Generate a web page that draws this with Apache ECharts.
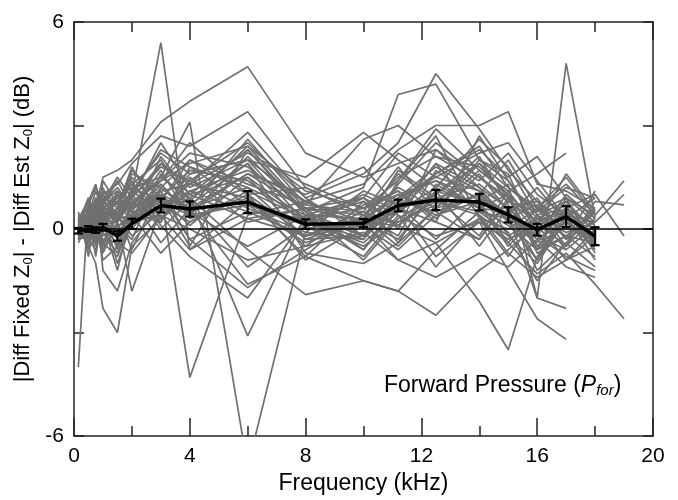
<!DOCTYPE html>
<html>
<head>
<meta charset="utf-8">
<script src="https://cdn.jsdelivr.net/npm/echarts@6/dist/echarts.min.js"></script>
<style>
  html, body { margin: 0; padding: 0; background: #fff; }
  #chart { width: 678px; height: 500px; }
</style>
</head>
<body>
<div id="chart"></div>
<script>
// frequencies (kHz) shared by every ear
const freqs = [0.15, 0.5, 0.75, 1, 1.5, 2, 3, 4, 6, 8, 10, 11.2, 12.5, 14, 15, 16, 17, 18, 19];

// mean difference (dB) and half-width of error bar
const meanDiff = [-0.05, 0.0, -0.03, 0.05, -0.2, 0.15, 0.68, 0.58, 0.78, 0.14, 0.17, 0.68, 0.84, 0.78, 0.41, -0.02, 0.36, -0.21];
const meanErr  = [0.08, 0.08, 0.08, 0.1, 0.14, 0.15, 0.2, 0.22, 0.32, 0.14, 0.12, 0.17, 0.29, 0.24, 0.22, 0.17, 0.3, 0.26];

// individual ears (gray lines), null = no measurement
const ears = [
  [0.1, 0.4, 0.6, 1.5, 1.7, 2.0, 3.1, 3.7, 4.7, 2.2, 1.5, 1.9, 2.3, 1.5, 0.8, 0.2, 0.5, -0.2, null],
  [0.0, -0.3, 0.2, 0.5, 0.3, 1.0, 5.4, -0.6, 0.8, 0.2, -0.4, 0.5, 1.2, 0.6, 0.1, -0.6, -0.2, -0.8, null],
  [0.2, 0.5, 0.8, 1.0, 1.3, 1.9, 2.7, 2.4, 3.4, 1.2, 0.4, 1.5, 2.1, 1.8, 1.0, 0.2, 0.6, 0.1, null],
  [-0.2, 0.3, 0.6, 0.4, 0.9, 1.2, 1.5, 3.1, -6.9, -0.1, -0.3, 0.8, 1.6, 2.4, 1.2, 0.5, 0.9, 0.4, 1.4],
  [0.0, 0.2, -0.1, 0.3, 0.6, 0.9, 1.8, 1.4, 2.5, 0.9, 1.6, 2.5, 4.5, 2.9, 1.7, 0.8, 0.2, -0.3, null],
  [0.3, 0.1, 0.4, 0.7, 0.2, 0.8, 1.4, 2.2, 1.8, 0.5, 1.2, 3.9, 4.2, 2.0, 1.4, 0.3, -0.2, 0.5, null],
  [-0.1, -0.4, 0.1, 0.2, -0.5, 0.4, 0.9, 0.6, 1.2, -0.3, 0.3, 0.9, 1.5, 1.1, 0.4, -2.0, 4.8, 0.3, null],
  [0.1, 0.4, 0.2, 0.6, 0.4, 1.1, 2.2, 1.6, 2.0, 0.8, 1.3, 2.3, 3.0, 3.0, 3.4, 1.3, 1.1, 0.6, null],
  [-4.0, 0.8, -0.3, 0.5, -1.0, 0.2, 0.4, -0.6, 0.3, -0.2, 0.5, 0.1, -0.4, 0.3, -0.8, 0.4, -0.1, 0.2, null],
  [0.3, -0.5, -1.0, -2.3, -3.0, -0.5, 0.3, 1.1, 0.5, -0.2, 0.1, -0.6, 0.4, 1.0, 0.2, -0.4, 0.6, -0.3, null],
  [0.5, -0.8, 0.9, -1.2, -1.8, -0.4, 0.7, 0.2, 1.1, 0.3, -0.5, 0.2, 0.8, 0.4, -0.2, -1.0, 0.3, null, null],
  [0.2, 0.1, -0.4, 0.3, -0.2, 0.6, 1.0, -4.3, 0.4, 0.8, 0.2, -0.3, 1.1, 0.7, -0.5, 0.4, -0.6, 0.1, null],
  [-0.3, 0.6, 0.2, -0.5, 0.4, -0.2, 0.5, 0.9, -3.1, 0.4, -0.6, 0.6, 0.2, -0.3, 0.9, -0.5, 0.2, -0.4, null],
  [0.1, -0.2, 0.4, -0.6, 0.2, -1.8, 0.6, 1.3, 0.9, -0.5, 0.7, 1.1, 0.3, 1.6, 0.5, 0.9, -0.3, 0.2, null],
  [0.0, 0.3, -0.2, 0.1, 0.5, 0.9, -0.4, 0.6, -1.6, -0.8, -1.5, -1.8, -2.5, -1.2, -0.6, 0.1, -0.9, -0.5, null],
  [-0.2, 0.2, 0.5, 0.8, 0.3, 0.1, 1.2, 0.5, 1.6, 0.6, 0.2, -0.9, -0.4, -2.1, -3.5, -0.8, 0.4, -0.9, null],
  [0.4, 0.0, -0.3, 0.6, 1.0, 0.5, 0.2, 1.8, 0.7, 0.1, 0.9, 0.4, -1.1, 0.3, -0.4, -1.3, -0.7, -1.6, -2.6],
  [-0.1, 0.5, 0.3, -0.4, -0.8, 0.3, 0.8, 0.4, 2.1, 0.5, -0.2, 0.7, -0.8, 0.2, -1.2, -2.6, -3.2, null, null],
  [0.2, -0.1, 0.1, 0.4, -0.3, 0.7, 1.5, 0.9, -0.6, -1.9, -1.5, -1.8, -0.6, 0.5, 0.3, -0.2, 1.0, 0.3, null],
  [-0.4, 0.2, 0.7, 0.3, 0.8, 1.4, 0.1, -0.8, -2.0, 0.3, 0.8, -0.4, 1.3, 0.6, 1.0, 0.2, -0.5, 0.8, 0.7],
  [0.1, 0.7, 0.3, 1.0, 0.4, 0.2, 1.1, -0.3, -1.7, -0.6, 0.4, 1.2, 0.6, 1.9, 1.2, 0.6, 1.5, 0.4, null],
  [0.3, 0.1, -0.2, 0.8, 1.2, 0.6, 1.9, 1.3, 2.8, 0.9, -0.2, 0.6, 1.9, 1.2, 0.2, -0.9, 0.6, 1.0, -0.2],
  [-0.2, 0.4, 1.1, 0.5, 0.2, 0.9, 2.5, 1.2, 2.0, 1.5, 2.8, 2.0, 1.2, 2.6, 1.8, 0.4, 0.8, -0.4, null],
  [0.2, 0.9, 0.4, 0.2, 0.6, 1.6, 1.2, 2.0, 1.3, 0.7, 2.6, 3.0, 2.1, 1.4, 2.2, 1.0, 0.4, 0.2, null],
  [0.0, -0.2, 0.6, 1.1, 0.7, 1.3, 2.0, 0.8, 2.4, 1.1, 0.6, 1.4, 2.9, 1.7, 1.1, 1.6, 2.2, null, null],
  [-0.1, 0.3, 0.9, 0.7, 1.4, 0.6, 0.9, 1.7, 1.4, 0.2, 1.0, 0.5, 1.6, 2.3, 1.5, 2.1, 0.9, 0.2, 1.0],
  [0.1, 0.2, 0.0, 0.4, 0.8, 0.5, 0.6, 1.0, 1.5, 0.3, 0.6, 1.0, 1.4, 0.9, 0.4, -0.3, 0.2, -0.5, null],
  [-0.3, -0.1, 0.3, -0.2, 0.1, 0.3, 1.3, 0.4, 0.7, -0.4, 0.2, 0.1, 0.9, 1.3, 0.6, -0.2, -0.8, -1.2, null],
  [0.2, -0.6, -0.2, 0.5, -0.6, 0.8, 0.2, 1.5, 0.2, 0.6, -0.6, 0.8, 0.5, -0.3, 0.8, 0.5, 1.2, 0.9, null],
  [0.0, 0.5, -0.5, 0.9, 0.1, -0.3, 1.6, 0.7, 1.9, 0.0, 0.3, 1.6, 0.8, 0.5, -0.1, -1.5, -0.4, -1.1, null],
  [-0.1, 0.3, 0.5, -0.1, -0.7, 0.4, -0.7, 0.2, 1.0, 1.2, 0.4, -0.2, 1.7, 0.8, 1.3, -2.0, -2.3, null, null],
  [0.3, 0.6, 0.1, 0.3, 1.0, 0.3, 0.9, -0.5, 2.3, 0.5, -0.9, 0.3, 1.0, 2.1, 0.7, -0.6, 0.1, null, null],
  [-0.2, 0.0, 0.8, 0.6, 0.5, 1.1, 0.5, 1.4, 0.6, -0.1, 1.1, 0.7, -0.3, 0.9, 0.3, 0.7, -0.3, 0.6, null],
  [0.1, -0.3, -0.6, 0.2, 0.6, 1.0, 2.3, 1.8, 1.2, 0.4, -0.2, 1.3, 2.5, 1.5, 0.9, -0.1, 0.5, -0.2, null],
  [0.4, 0.2, 0.2, -0.3, -0.4, -0.7, 0.4, 0.0, -0.9, -0.5, -0.1, -0.9, -1.4, -0.7, -1.1, -0.3, -1.1, -1.4, null],
  [-0.2, 0.6, 0.4, 0.8, 1.1, 0.0, 1.0, 0.6, 2.6, 0.7, 0.5, 1.8, 0.5, 1.0, 2.0, 0.6, 0.0, -0.1, null],
  [0.0, -0.4, 0.3, 0.2, -1.2, 0.5, 1.7, 0.3, 0.9, -0.8, 0.8, 0.1, 1.1, -0.5, 0.6, -1.2, -0.4, 0.5, null],
  [0.2, 0.1, -0.1, 0.5, 0.3, 1.5, 0.6, 1.1, 1.7, 0.8, 0.0, 0.9, 1.8, 1.1, -0.2, 0.3, 0.7, -0.7, null],
  [-0.3, 0.4, 0.6, 1.2, 0.3, 0.4, 1.4, 2.5, 1.0, -0.2, 0.3, -0.5, 0.6, 1.7, 1.0, -0.7, -0.2, -0.4, null],
  [0.1, -0.5, 0.1, -0.7, 0.2, 1.0, 0.0, 0.8, -1.1, 0.1, -0.8, 0.4, -0.2, 0.2, -0.3, 0.1, -0.9, -0.2, null],
  [0.3, 0.8, 1.3, 0.4, 0.0, 0.6, 1.1, 1.3, 2.2, 1.3, 0.6, 1.1, 0.2, 2.7, 1.4, 0.1, 1.6, 0.5, null],
  [-0.1, 0.2, -0.2, 1.4, 0.7, 1.7, 0.9, 0.1, 1.5, -0.3, -0.2, 0.9, 1.4, 0.6, 0.5, -0.9, 0.3, -0.6, null],
  [0.0, -0.2, 0.5, 0.0, 0.4, 0.2, 2.1, 1.0, 0.3, 0.6, 0.9, 0.0, 2.3, 1.2, 0.6, 0.8, -0.3, 1.1, null],
  [0.2, 0.3, -0.4, 0.6, 0.9, 1.3, 0.5, 1.6, 2.0, 0.2, 0.1, 1.7, 0.9, -0.2, 1.1, 0.0, 0.8, -0.1, null],
  [-0.1, 0.1, 0.2, -0.9, -0.5, 0.8, 0.8, 0.5, -0.5, 0.4, 0.3, 1.0, 0.4, 0.8, -0.4, 0.6, -0.5, 0.3, null],
  [0.2, 0.7, 1.2, 0.8, 1.5, 0.9, 1.9, 1.0, 2.3, 0.4, 0.9, 2.2, 1.5, 2.2, 2.5, 1.4, 0.3, 0.9, null],
  [-0.3, -0.2, 0.5, 0.9, 0.2, 1.2, 0.8, 2.0, 1.0, -0.9, 0.1, 0.5, 1.9, 0.4, -0.7, -1.4, -0.9, 0.0, null],
  [0.1, 0.9, 0.0, -0.4, 0.5, -0.6, 1.2, 0.6, 1.6, 1.0, 1.8, 0.6, 1.0, 1.9, 0.9, -0.6, 0.9, -0.5, null],
  [0.0, 0.4, -0.8, 0.6, -0.2, 0.4, 1.0, -0.3, 0.5, 0.3, -0.3, 1.4, 2.7, 0.3, 0.0, 0.6, 1.3, 0.4, null],
  [-0.2, 0.1, 0.7, 0.3, 1.1, 0.7, 1.4, 1.9, 2.4, 0.6, 0.4, 0.2, 0.7, 2.0, 1.6, -0.2, -0.6, null, null],
  [0.3, -0.3, 0.0, 1.0, 0.6, 1.8, 0.3, 0.9, 1.9, -0.7, -1.0, -0.4, 0.6, 1.0, 0.4, 1.2, 0.2, -0.4, null]
];

const xTicks = [0, 4, 8, 12, 16, 20];
const yTicks = [-6, 0, 6];

const chart = echarts.init(document.getElementById('chart'));
const font = 'Liberation Sans, Arial, sans-serif';

const series = [];
ears.forEach(function (vals) {
  const pts = [];
  vals.forEach(function (v, i) {
    if (v !== null) pts.push([freqs[i], v]);
  });
  series.push({
    type: 'line',
    data: pts,
    symbol: 'none',
    silent: true,
    lineStyle: { color: '#707070', width: 1.7 },
    z: 2
  });
});

// mean line + zero reference
series.push({
  type: 'line',
  data: meanDiff.map(function (v, i) { return [freqs[i], v]; }),
  symbol: 'none',
  silent: true,
  lineStyle: { color: '#000', width: 3.5 },
  z: 5,
  markLine: {
    silent: true,
    symbol: 'none',
    label: { show: false },
    lineStyle: { color: '#000', width: 1.5, type: 'solid' },
    data: [{ yAxis: 0 }],
    z: 4
  }
});

// error bars
series.push({
  type: 'custom',
  silent: true,
  z: 6,
  data: meanDiff.map(function (v, i) { return [freqs[i], v - meanErr[i], v + meanErr[i]]; }),
  renderItem: function (params, api) {
    const lo = api.coord([api.value(0), api.value(1)]);
    const hi = api.coord([api.value(0), api.value(2)]);
    const w = 4.5;
    const st = { stroke: '#000', lineWidth: 2.2 };
    return {
      type: 'group',
      children: [
        { type: 'line', shape: { x1: lo[0], y1: lo[1], x2: hi[0], y2: hi[1] }, style: st },
        { type: 'line', shape: { x1: lo[0] - w, y1: lo[1], x2: lo[0] + w, y2: lo[1] }, style: st },
        { type: 'line', shape: { x1: hi[0] - w, y1: hi[1], x2: hi[0] + w, y2: hi[1] }, style: st }
      ]
    };
  }
});

const axisLine = { show: true, onZero: false, lineStyle: { color: '#222', width: 1.5 } };
const tickStyle = { color: '#222', width: 1.5 };

chart.setOption({
  animation: false,
  grid: { left: 74, right: 25, top: 22, bottom: 60 },
  xAxis: [{
    type: 'value', min: 0, max: 20, interval: 4, position: 'bottom',
    axisLine: axisLine,
    axisTick: { inside: true, length: 18, lineStyle: tickStyle },
    minorTick: { show: true, splitNumber: 2, length: 10, lineStyle: tickStyle },
    splitLine: { show: false },
    axisLabel: {
      color: '#000', fontSize: 21, fontFamily: font, margin: 10,
      formatter: function (v) { return xTicks.indexOf(v) >= 0 ? String(v) : ''; }
    },
    name: 'Frequency (kHz)', nameLocation: 'middle', nameGap: 36,
    nameTextStyle: { color: '#000', fontSize: 23, fontFamily: font }
  }, {
    type: 'value', min: 0, max: 20, interval: 4, position: 'top',
    axisLine: axisLine,
    axisTick: { inside: true, length: 18, lineStyle: tickStyle },
    minorTick: { show: true, splitNumber: 2, length: 10, lineStyle: tickStyle },
    splitLine: { show: false },
    axisLabel: { show: false }
  }],
  yAxis: [{
    type: 'value', min: -6, max: 6, interval: 3, position: 'left',
    axisLine: axisLine,
    axisTick: { inside: true, length: 10, lineStyle: tickStyle },
    splitLine: { show: false },
    axisLabel: {
      color: '#000', fontSize: 21, fontFamily: font, margin: 10,
      formatter: function (v) { return yTicks.indexOf(v) >= 0 ? String(v) : ''; }
    },
    name: '|Diff Fixed Z{s|0}| - |Diff Est Z{s|0}| (dB)',
    nameLocation: 'middle', nameGap: 36,
    nameTextStyle: {
      color: '#000', fontSize: 22, fontFamily: font,
      rich: { s: { fontSize: 13, fontFamily: font, color: '#000', padding: [10, 0, 0, 0] } }
    }
  }, {
    type: 'value', min: -6, max: 6, interval: 3, position: 'right',
    axisLine: axisLine,
    axisTick: { inside: true, length: 10, lineStyle: tickStyle },
    splitLine: { show: false },
    axisLabel: { show: false }
  }],
  graphic: [{
    type: 'text',
    x: 384,
    y: 386,
    style: {
      text: '{a|Forward Pressure (}{p|P}{s|for}{a|)}',
      verticalAlign: 'middle',
      rich: {
        a: { fontSize: 23, fontFamily: font, fill: '#000' },
        p: { fontSize: 23, fontFamily: font, fontStyle: 'italic', fill: '#000' },
        s: { fontSize: 15, fontFamily: font, fontStyle: 'italic', fill: '#000', padding: [10, 0, 0, 0] }
      }
    },
    z: 10
  }],
  series: series
});
</script>
</body>
</html>
